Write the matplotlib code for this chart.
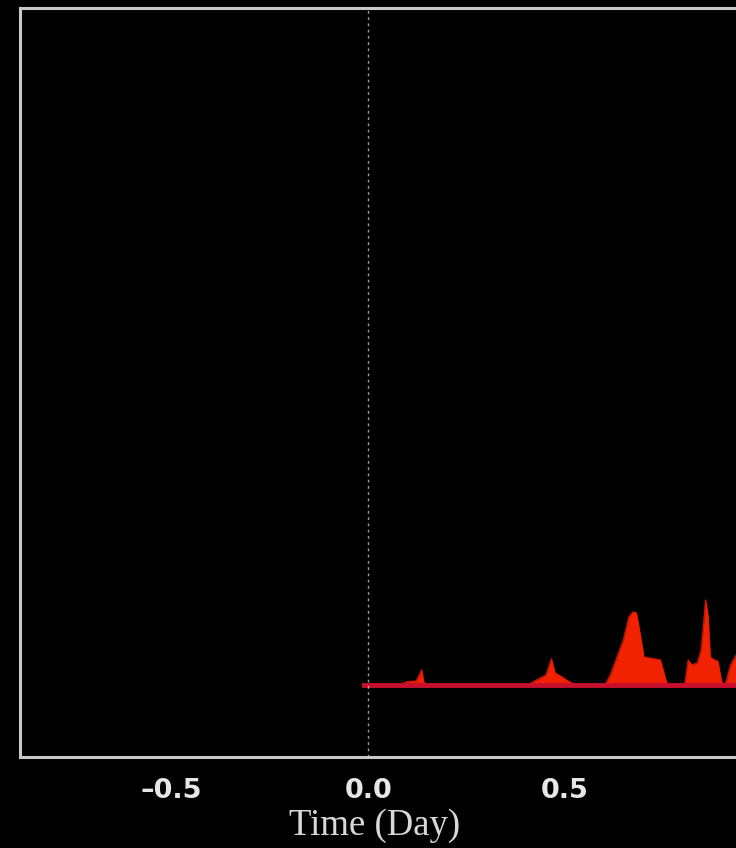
import numpy as np
import matplotlib.pyplot as plt

# activity trace after onset (time in days, arbitrary units)
time_day = [-0.01, 0.000, 0.085, 0.094, 0.122, 0.136, 0.141, 0.151,
            0.405, 0.433, 0.452, 0.466, 0.475, 0.489, 0.508, 0.527,
            0.602, 0.616, 0.630, 0.649, 0.663, 0.673, 0.682, 0.692, 0.701,
            0.715, 0.743, 0.757, 0.762,
            0.805, 0.814, 0.823, 0.837, 0.847, 0.854, 0.858, 0.864, 0.870,
            0.880, 0.889, 0.899, 0.908, 0.922, 0.936, 1.0]
activity = [0.0, 0.0, 0.0, 0.3, 0.4, 1.5, 0.3, 0.0,
            0.0, 0.6, 1.0, 2.6, 1.2, 0.9, 0.4, 0.0,
            0.0, 1.0, 2.5, 4.5, 6.8, 7.3, 7.2, 5.0, 2.8,
            2.7, 2.5, 0.5, 0.0,
            0.0, 2.5, 2.0, 2.2, 3.5, 6.5, 8.5, 7.0, 2.8,
            2.5, 2.4, 0.3, 0.0, 2.0, 3.0, 3.0]
xticks = [-0.5, 0.0, 0.5]
xticklabels = ['\u20130.5', '0.0', '0.5']

fig = plt.figure(figsize=(7.36, 8.48), dpi=100, facecolor='black')
ax = fig.add_axes([20 / 736, 91 / 848, 820 / 736, 749 / 848])
ax.set_facecolor('black')

t = np.array(time_day)
v = np.array(activity)
ax.fill_between(t, 0, v, color='#ff2400', alpha=0.95, linewidth=0)
ax.plot(t, v, color='#ff1a00', linewidth=1.0, alpha=0.8)
ax.plot([t[0], t[-1]], [0, 0], color='#c8102e', linewidth=3.5)

ax.axvline(0.0, color='#dddddd', linestyle=(0, (2, 2.5)), linewidth=1.0, alpha=0.7)

ax.set_xlim(-0.886, 1.2)
ax.set_ylim(-7.2, 67.7)

for side in ['left', 'top', 'bottom', 'right']:
    ax.spines[side].set_color('#c8c8c8')
    ax.spines[side].set_linewidth(2.2)

ax.set_yticks([])
ax.set_xticks(xticks)
ax.set_xticklabels(xticklabels, fontsize=19.5, fontweight='bold',
                   color='#e6e6e6', family='DejaVu Sans')
ax.tick_params(axis='x', length=0, pad=15)
ax.set_xlabel('Time (Day)', fontsize=26.5, color='#d8d8d8',
              family='Liberation Serif', labelpad=0)
# label sits centred under the onset, not under the whole axis
ax.xaxis.set_label_coords(0.432, -0.092)
ax.xaxis.label.set_verticalalignment('center')

fig.savefig('out.png', dpi=100, facecolor='black')
